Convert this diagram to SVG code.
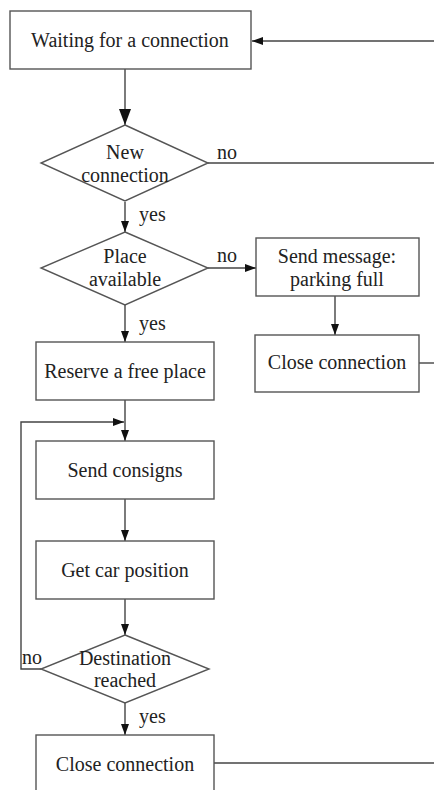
<svg xmlns="http://www.w3.org/2000/svg" width="434" height="790" viewBox="0 0 434 790">
<defs>
<marker id="ah" markerWidth="11" markerHeight="8" refX="11" refY="4" orient="auto" markerUnits="userSpaceOnUse"><path d="M0,0 L11,4 L0,8 Z" fill="#111"/></marker>
<marker id="ahb" markerWidth="16" markerHeight="12" refX="16" refY="6" orient="auto" markerUnits="userSpaceOnUse"><path d="M0,0 L16,6 L0,12 Z" fill="#111"/></marker>
</defs>
<style>
.n{fill:#fff;stroke:#555;stroke-width:1.4}
text{font-family:'Liberation Serif','Times New Roman','DejaVu Serif',serif;font-size:20px;fill:#222}
.t{text-anchor:middle}
.c{fill:none;stroke:#444;stroke-width:1.4}
</style>
<g id="connectors">
<path class="c" d="M434,41 H252" marker-end="url(#ah)"/>
<path class="c" d="M125,69 V125" marker-end="url(#ahb)"/>
<path class="c" d="M208,163 H434"/>
<path class="c" d="M125,202 V232" marker-end="url(#ah)"/>
<path class="c" d="M208,268 H256" marker-end="url(#ah)"/>
<path class="c" d="M335,296 V335" marker-end="url(#ah)"/>
<path class="c" d="M419,363 H434"/>
<path class="c" d="M125,305 V342" marker-end="url(#ah)"/>
<path class="c" d="M125,400 V441" marker-end="url(#ah)"/>
<path class="c" d="M41,669 H21 V422 H124" marker-end="url(#ah)"/>
<path class="c" d="M125,499 V541" marker-end="url(#ah)"/>
<path class="c" d="M125,599 V635" marker-end="url(#ah)"/>
<path class="c" d="M125,703 V735" marker-end="url(#ah)"/>
<path class="c" d="M214,763 H434"/>
<text x="217" y="159">no</text>
<text x="139" y="221">yes</text>
<text x="217" y="262">no</text>
<text x="139" y="330">yes</text>
<text x="22" y="664">no</text>
<text x="139" y="723">yes</text>
</g>
<g id="wait"><rect class="n" x="10" y="11" width="241" height="58"/><text class="t" x="130" y="47">Waiting for a connection</text></g>
<g id="newconn"><polygon class="n" points="125,125 208,163 125,201 41,163"/><text class="t" x="125" y="159">New</text><text class="t" x="125" y="182">connection</text></g>
<g id="place"><polygon class="n" points="125,232 208,268 125,305 41,268"/><text class="t" x="125" y="263">Place</text><text class="t" x="125" y="286">available</text></g>
<g id="full"><rect class="n" x="256" y="238" width="163" height="58"/><text class="t" x="337" y="263">Send message:</text><text class="t" x="337" y="286">parking full</text></g>
<g id="close1"><rect class="n" x="255" y="335" width="164" height="57"/><text class="t" x="337" y="369">Close connection</text></g>
<g id="reserve"><rect class="n" x="36" y="342" width="178" height="58"/><text class="t" x="125" y="378">Reserve a free place</text></g>
<g id="consigns"><rect class="n" x="36" y="441" width="178" height="58"/><text class="t" x="125" y="477">Send consigns</text></g>
<g id="carpos"><rect class="n" x="36" y="541" width="178" height="58"/><text class="t" x="125" y="577">Get car position</text></g>
<g id="dest"><polygon class="n" points="125,635 209,669 125,703 41,669"/><text class="t" x="125" y="665">Destination</text><text class="t" x="125" y="687">reached</text></g>
<g id="close2"><rect class="n" x="36" y="735" width="178" height="60"/><text class="t" x="125" y="771">Close connection</text></g>
</svg>
